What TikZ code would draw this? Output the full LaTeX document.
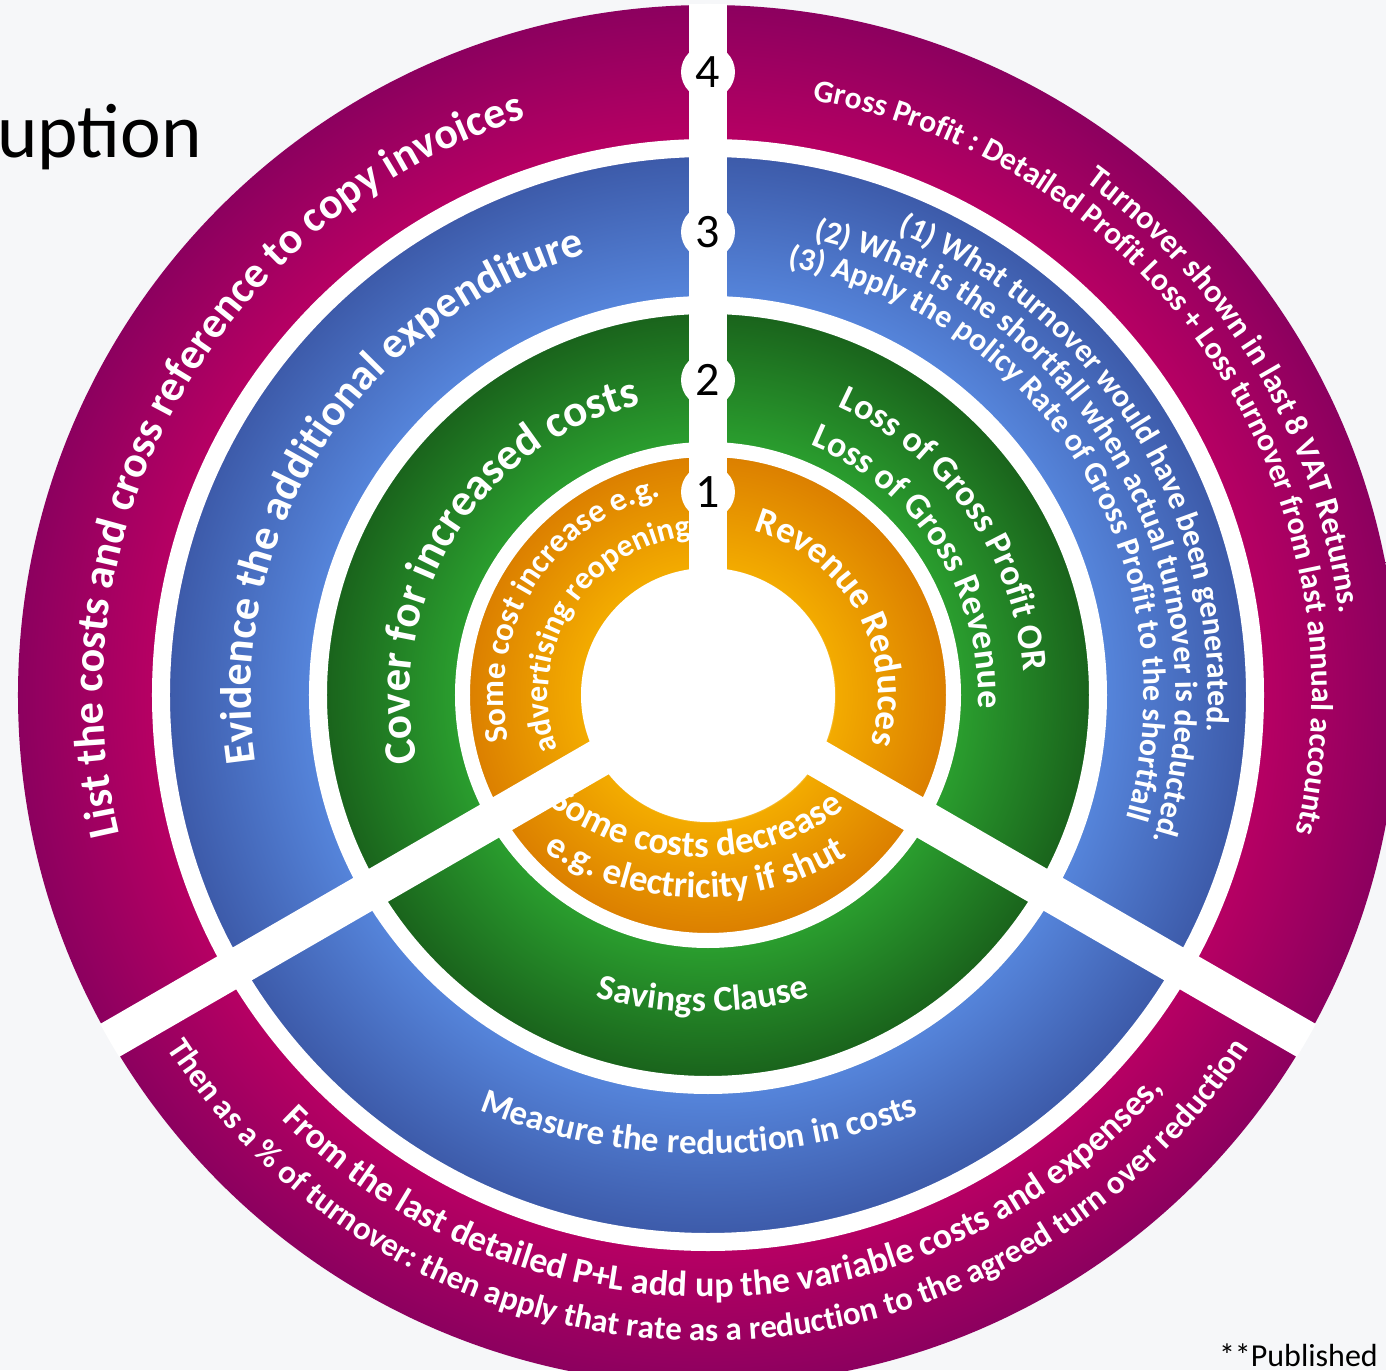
\documentclass[tikz,border=0pt]{standalone}
\usepackage{fontspec}
\setmainfont{Carlito}
\usepackage{tikz}

\definecolor{bgpale}{HTML}{F6F7F9}
\definecolor{orlight}{HTML}{F3AB00}
\definecolor{ordark}{HTML}{DC8000}
\definecolor{grlight}{HTML}{2A9D2E}
\definecolor{grdark}{HTML}{1A641C}
\definecolor{bllight}{HTML}{5584DA}
\definecolor{bldark}{HTML}{3D5BAA}
\definecolor{mglight}{HTML}{B60063}
\definecolor{mgdark}{HTML}{8C005F}

% rings: radius 690 -> 25bp
\pgfdeclareradialshading{ringfill}{\pgfpoint{0bp}{0bp}}{%
  color(0bp)=(white); color(4.5bp)=(white);
  color(4.62bp)=(orlight); color(8.62bp)=(ordark);
  color(9.17bp)=(grlight); color(13.8bp)=(grdark);
  color(14.46bp)=(bllight); color(19.49bp)=(bldark);
  color(20.14bp)=(mglight); color(25bp)=(mgdark); color(50bp)=(mgdark)}

\tikzset{
    numnode/.style = {circle, fill=white, minimum size=54pt, inner sep=0pt, font=\fontsize{48}{48}\selectfont},
    gapline/.style = {white, line width=38pt},
    ringgap/.style = {white, line width=18pt},
    plaintext/.style = {anchor=base east, inner sep=0pt}
}
\newcommand{\bsize}[1]{\fontsize{#1}{#1}\selectfont\bfseries}
\newcommand{\rsize}[1]{\fontsize{#1}{#1}\selectfont}

% text bent round a circle: #1 cx, #2 cy, #3 radius, #4 mid angle,
% #5 1 = clockwise (letters point out), -1 = anticlockwise, #6 font, #7 text
\ExplSyntaxOn
\box_new:N \l_arct_box
\bool_new:N \l_arct_draw_bool
\fp_new:N \l_arct_w_fp
\fp_new:N \l_arct_tot_fp
\fp_new:N \l_arct_cur_fp
\fp_new:N \l_arct_a_fp
\tl_new:N \l_arct_x_tl
\tl_new:N \l_arct_y_tl
\tl_new:N \l_arct_rot_tl
\cs_new_protected:Npn \arct_width:n #1
  {
    \bool_set_false:N \l_arct_draw_bool
    \str_if_eq:nnTF { #1 } { ~ }
      {
        \hbox_set:Nn \l_arct_box
          { \pgfinterruptpicture \skip_horizontal:n { \fontdimen 2 \font } \endpgfinterruptpicture }
      }
      {
        \str_if_eq:VnTF \c_backslash_str { #1 }
          { \hbox_set:Nn \l_arct_box { } }
          {
            \bool_set_true:N \l_arct_draw_bool
            \hbox_set:Nn \l_arct_box { \pgfinterruptpicture #1 \endpgfinterruptpicture }
          }
      }
    \fp_set:Nn \l_arct_w_fp { \dim_to_fp:n { \box_wd:N \l_arct_box } }
  }
\NewDocumentCommand \arctext { m m m m m m m }
  {
    \group_begin:
    #6
    \fp_set:Nn \l_arct_tot_fp { 0 }
    \str_map_inline:nn { #7 }
      {
        \arct_width:n { ##1 }
        \fp_add:Nn \l_arct_tot_fp { \l_arct_w_fp }
      }
    \fp_set:Nn \l_arct_cur_fp { (#4) + (#5) * \l_arct_tot_fp * 90 / ( pi * (#3) ) }
    \str_map_inline:nn { #7 }
      {
        \arct_width:n { ##1 }
        \fp_set:Nn \l_arct_a_fp { \l_arct_cur_fp - (#5) * \l_arct_w_fp * 90 / ( pi * (#3) ) }
        \bool_if:NT \l_arct_draw_bool
          {
            \tl_set:Nx \l_arct_x_tl { \fp_eval:n { (#1) + (#3) * cosd( \l_arct_a_fp ) } }
            \tl_set:Nx \l_arct_y_tl { \fp_eval:n { (#2) + (#3) * sind( \l_arct_a_fp ) } }
            \tl_set:Nx \l_arct_rot_tl { \fp_eval:n { \l_arct_a_fp - (#5) * 90 } }
            \pgftext [ base , at = { \pgfpoint { \l_arct_x_tl pt } { \l_arct_y_tl pt } } , rotate = \l_arct_rot_tl ]
              { \color { white } ##1 }
          }
        \fp_sub:Nn \l_arct_cur_fp { (#5) * \l_arct_w_fp * 180 / ( pi * (#3) ) }
      }
    \group_end:
  }
\ExplSyntaxOff

\begin{document}
\begin{tikzpicture}[x=1pt, y=1pt]
    \useasboundingbox (-708,-675) rectangle (678,695);
    \fill[bgpale] (-708,-675) rectangle (678,695);
    \coordinate (c) at (0,0);

    \shade[shading=ringfill] (c) circle (690);
    \begin{scope}
        \clip (c) circle (691);
        \foreach \a in {90,210,330} \draw[gapline] (c) -- (\a:720);
    \end{scope}
    \draw[ringgap, line width=15pt] (c) circle (245.5);
    \draw[ringgap] (c) circle (390);
    \draw[ringgap] (c) circle (547);
    \fill[white] (c) circle (127);

    \node[numnode] (n1) at (0,203) {1};
    \node[numnode] (n2) at (0,315) {2};
    \node[numnode] (n3) at (0,463) {3};
    \node[numnode] (n4) at (0,623) {4};

    \node[plaintext, font=\rsize{77}] (title) at (-506,537) {uption};
    \node[plaintext, font=\rsize{32}] (pub) at (670,-671) {**Published};

    % ring 1
    \arctext{0}{0}{204}{148}{1}{\bsize{33}}{Some cost increase e.g.}
    \arctext{0}{0}{160}{148}{1}{\bsize{32}}{advertising reopening}
    \arctext{0}{0}{170}{29}{1}{\bsize{37}}{Revenue Reduces}
    \arctext{-8}{80}{242}{269}{-1}{\bsize{37}}{Some costs decrease}
    \arctext{-8}{80}{283}{269}{-1}{\bsize{37}}{e.g. electricity if shut}
    % ring 2
    \arctext{0}{0}{298}{148}{1}{\bsize{45}}{Cover for increased costs}
    \arctext{0}{0}{316}{35}{1}{\bsize{36}}{Loss of Gross Profit OR}
    \arctext{0}{0}{270}{32.5}{1}{\bsize{36}}{Loss of Gross Revenue}
    \arctext{-5}{75}{392}{270}{-1}{\bsize{36}}{Savings Clause}
    % ring 3
    \arctext{0}{0}{457}{147}{1}{\bsize{44}}{Evidence the additional expenditure}
    \arctext{0}{0}{500}{31.7}{1}{\bsize{32}}{(1) What turnover would have been generated.}
    \arctext{0}{0}{468}{29.4}{1}{\bsize{32}}{(2) What is the shortfall when actual turnover is deducted.}
    \arctext{0}{0}{436}{31.5}{1}{\bsize{32}}{(3) Apply the policy Rate of Gross Profit to the shortfall}
    \arctext{-4}{145}{604}{269.5}{-1}{\bsize{35}}{Measure the reduction in costs}
    % ring 4
    \arctext{0}{0}{605}{150.4}{1}{\bsize{44}}{List the costs and cross reference to copy invoices}
    \arctext{0}{0}{637}{30.5}{1}{\bsize{32.5}}{Turnover shown in  last 8 VAT Returns.}
    \arctext{0}{0}{604}{33.4}{1}{\bsize{31.5}}{Gross Profit : Detailed Profit Loss + Loss turnover from last annual accounts}
    \arctext{0}{0}{602}{272}{-1}{\bsize{36}}{From the last detailed P+L add up the variable costs and expenses,}
    \arctext{0}{0}{646}{270}{-1}{\bsize{33}}{Then as a \% of turnover: then apply that rate as a reduction to the agreed turn over reduction}
\end{tikzpicture}
\end{document}
